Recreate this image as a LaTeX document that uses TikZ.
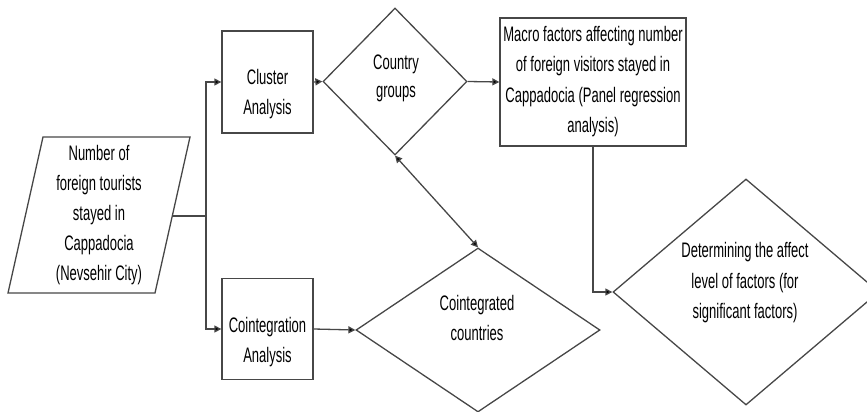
\documentclass[tikz,border=0pt]{standalone}
\usepackage{fontspec}
\setmainfont[FakeStretch=0.62]{Liberation Sans}
\usetikzlibrary{shapes.geometric,arrows.meta}
\begin{document}
\begin{tikzpicture}[x=1pt,y=-1pt,
  lc/.style={draw=black!72,line width=1.3pt},
  boxshape/.style={lc,rectangle,inner sep=0pt},
  dia/.style={lc,diamond,inner sep=0pt},
  txt/.style={anchor=base,align=center,inner sep=0pt,font=\fontsize{21}{30}\selectfont},
  arr/.style={draw=black!72,line width=1.3pt,-{Triangle[length=7pt,width=7pt,fill=black]}},
  darr/.style={draw=black!72,line width=1.3pt,{Triangle[length=7pt,width=7pt,fill=black]}-{Triangle[length=7pt,width=7pt,fill=black]}}]
\useasboundingbox (0,0) rectangle (867,412);
\clip (0,0) rectangle (867,412);
% source parallelogram
\coordinate (p1) at (43,137);
\coordinate (p2) at (190,137);
\coordinate (p3) at (155,293);
\coordinate (p4) at (8,293);
\draw[lc] (p1) -- (p2) -- (p3) -- (p4) -- cycle;
\coordinate (srcR) at (172.5,216);
\node[txt] (srct) at (99,280.5) {Number of\\foreign tourists\\stayed in\\Cappadocia\\(Nevsehir City)};
% boxes
\node[boxshape,minimum width=91pt,minimum height=102pt] (cluster) at (267.5,82) {};
\node[txt] (clustert) at (267.5,114.5) {Cluster\\Analysis};
\node[boxshape,minimum width=91pt,minimum height=101pt] (coint) at (267.5,329) {};
\node[txt] (cointt) at (267.5,362.5) {Cointegration\\Analysis};
\node[boxshape,minimum width=186pt,minimum height=128pt] (macro) at (593,82) {};
\node[txt,font=\fontsize{21}{30.5}\selectfont] (macrot) at (593,132.5) {Macro factors affecting number\\of foreign visitors stayed in\\Cappadocia (Panel regression\\analysis)};
% diamonds
\node[dia,minimum width=144pt,minimum height=147pt] (cg) at (395,81.5) {};
\node[txt,font=\fontsize{21}{28}\selectfont] (cgt) at (396,97.5) {Country\\groups};
\node[dia,minimum width=244pt,minimum height=164pt] (cd) at (478,330) {};
\node[txt] (cdt) at (477,340.5) {Cointegrated\\countries};
\node[dia,minimum width=266pt,minimum height=226pt] (det) at (746,292) {};
\node[txt,font=\fontsize{21}{30.5}\selectfont] (dett) at (745,318.5) {Determining the affect\\level of factors (for\\significant factors)};
% connectors
\coordinate (j) at (206,216);
\draw[lc] (srcR) -- (j);
\draw[arr] (j) |- (cluster.west);
\draw[arr] (j) |- (coint.west);
\draw[arr] (cluster.east) -- (cg.west);
\draw[arr] (cg.east) -- (macro.west);
\draw[arr] (coint.east) -- (cd.west);
\draw[arr] (macro.south) |- (det.west);
\draw[darr] (cg.south) -- (cd.north);
\end{tikzpicture}
\end{document}
